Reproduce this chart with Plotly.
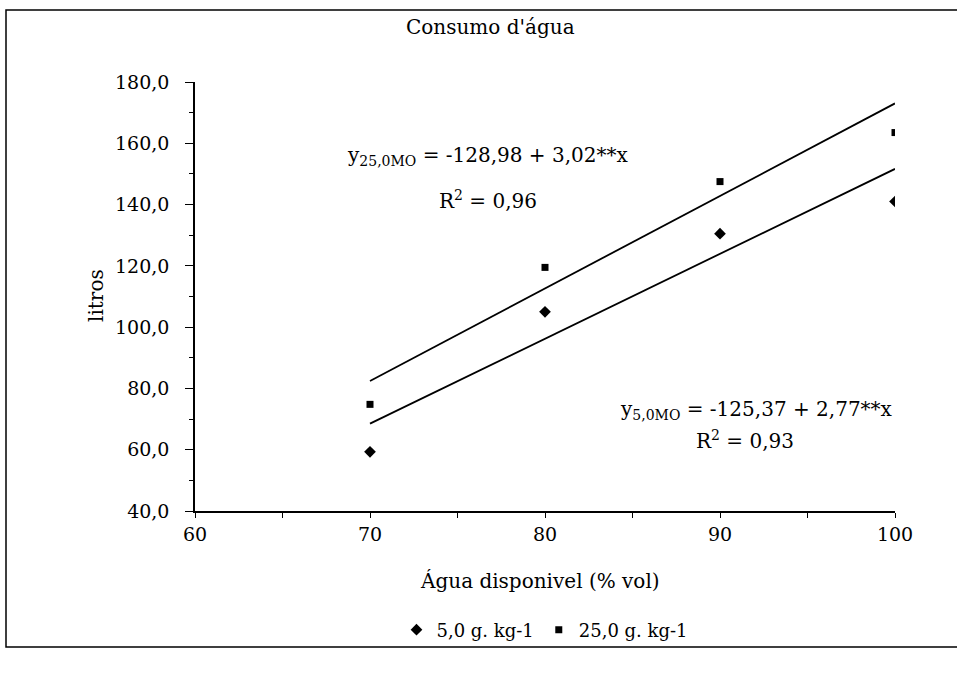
import plotly.graph_objects as go

# Water consumption (litres) against available water (% vol)
agua = [70, 80, 90, 100]
litros_5 = [59.3, 105.0, 130.5, 141.0]
litros_25 = [74.8, 119.5, 147.5, 163.5]

# Fitted linear models (intercept, slope)
fit_5 = (-125.37, 2.77)
fit_25 = (-128.98, 3.02)
fit_x = [70, 100]

SERIF = "DejaVu Serif, Liberation Serif, serif"

fig = go.Figure()

fig.add_trace(go.Scatter(
    x=agua, y=litros_5, mode="markers", name="5,0 g. kg-1",
    marker=dict(symbol="diamond", size=9, color="black"),
))
fig.add_trace(go.Scatter(
    x=agua, y=litros_25, mode="markers", name="25,0 g. kg-1",
    marker=dict(symbol="square", size=7, color="black"),
))

for b0, b1 in (fit_25, fit_5):
    fig.add_trace(go.Scatter(
        x=fit_x, y=[b0 + b1 * v for v in fit_x], mode="lines",
        line=dict(color="black", width=1.8), showlegend=False, hoverinfo="skip",
    ))

# Plot area spans pixels x 195..895, y 82..511
L, R, T, B = 195, 895, 82, 511
W, H = 957, 677


def px(x):
    return (x - L) / (R - L)


def py(y):
    return (B - y) / (B - T)


def label(text, x, y, size, angle=0):
    return dict(text=text, x=px(x), y=py(y), xref="paper", yref="paper",
                xanchor="center", yanchor="middle", showarrow=False,
                textangle=angle, font=dict(family=SERIF, size=size, color="black"))


annotations = [
    label("Consumo d'água", 490, 27, 20),
    label("litros", 96, 296, 20, -90),
    label("Água disponivel (% vol)", 540, 581, 20),
    label("y<sub>25,0MO</sub> = -128,98 + 3,02**x", 488, 156, 20),
    label("R<sup>2</sup> = 0,96", 488, 200, 20),
    label("y<sub>5,0MO</sub> = -125,37 + 2,77**x", 756, 410, 20),
    label("R<sup>2</sup> = 0,93", 745, 440, 20),
]

# Outer frame of the chart area (right side runs off the page)
frame = dict(type="rect", xref="paper", yref="paper", layer="below",
             x0=px(6), x1=px(962), y0=py(647), y1=py(10),
             line=dict(color="black", width=1.5))

fig.update_layout(
    width=W, height=H,
    margin=dict(l=L, r=W - R, t=T, b=H - B),
    paper_bgcolor="white", plot_bgcolor="white",
    separators=", ",
    font=dict(family=SERIF, size=18, color="black"),
    showlegend=True,
    legend=dict(orientation="h", x=0.5, xanchor="center", y=py(630), yanchor="middle",
                bgcolor="rgba(0,0,0,0)",
                font=dict(family=SERIF, size=18, color="black"),
                itemwidth=30, tracegroupgap=0),
    annotations=annotations,
    shapes=[frame],
)

fig.update_xaxes(
    range=[60, 100], dtick=10, tick0=60,
    showline=True, linecolor="black", linewidth=1.5,
    ticks="outside", ticklen=5, tickcolor="black",
    minor=dict(dtick=5, ticks="outside", ticklen=5, tickcolor="black"),
    showgrid=False, zeroline=False, ticklabelstandoff=0,
    tickfont=dict(family=SERIF, size=19, color="black"),
)
fig.update_yaxes(
    range=[40, 180], dtick=20, tick0=40, tickformat=".1f",
    showline=True, linecolor="black", linewidth=1.5,
    ticks="outside", ticklen=8, tickcolor="black",
    minor=dict(dtick=10, ticks="outside", ticklen=4, tickcolor="black"),
    showgrid=False, zeroline=False, ticklabelstandoff=12,
    tickfont=dict(family=SERIF, size=19, color="black"),
)

fig.write_html("out.html")
